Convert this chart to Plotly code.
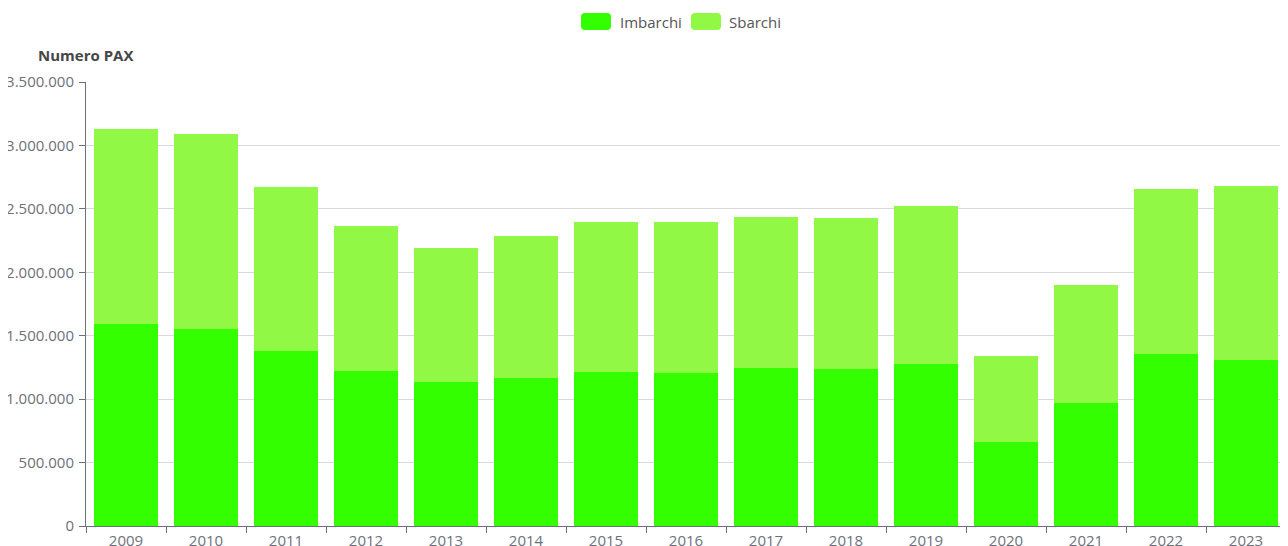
import plotly.graph_objects as go

years = ["2009", "2010", "2011", "2012", "2013", "2014", "2015", "2016",
         "2017", "2018", "2019", "2020", "2021", "2022", "2023"]
imbarchi = [1592000, 1553000, 1376000, 1222000, 1132000, 1164000, 1217000, 1206000,
            1243000, 1235000, 1274000, 663000, 967000, 1356000, 1306000]
sbarchi = [1538000, 1536000, 1295000, 1144000, 1063000, 1126000, 1183000, 1194000,
           1196000, 1194000, 1250000, 674000, 932000, 1301000, 1373000]
series_names = ["Imbarchi", "Sbarchi"]
series_colors = ["#33ff00", "#91f945"]

FONT = "Open Sans, Segoe UI, sans-serif"
TICK_COLOR = "#6e7079"

# figure geometry (page is offset by 8px body margin)
W, H = 1280, 538
ML, MR, MT, MB = 78, 2, 74, 20
PW, PH = W - ML - MR, H - MT - MB


def px(xpage):
    return (xpage - 8 - ML) / PW


def py(ypage):
    return (H - MB - (ypage - 8)) / PH


fig = go.Figure()
for name, vals, col in zip(series_names, [imbarchi, sbarchi], series_colors):
    fig.add_trace(go.Bar(name=name, x=years, y=vals, marker_color=col,
                         marker_line_width=0, showlegend=False))

fig.update_layout(
    barmode="stack",
    bargap=0.2,
    width=W, height=H,
    margin=dict(l=ML, r=MR, t=MT, b=MB, autoexpand=False),
    plot_bgcolor="white", paper_bgcolor="white",
    separators=",.",
    font=dict(family=FONT, size=15, color=TICK_COLOR),
    showlegend=False,
)
fig.update_xaxes(
    type="category", showline=True, linecolor=TICK_COLOR, linewidth=1,
    ticks="outside", tickson="boundaries", ticklen=6, tickcolor=TICK_COLOR,
    showgrid=False, tickfont=dict(size=15, color=TICK_COLOR),
    ticklabelstandoff=1, automargin=False,
)
fig.update_yaxes(
    range=[0, 3500000], dtick=500000, tickformat=",d",
    showline=True, linecolor=TICK_COLOR, linewidth=1,
    ticks="outside", ticklen=6, tickcolor=TICK_COLOR,
    showgrid=True, gridcolor="#dadada", gridwidth=1, zeroline=False,
    tickfont=dict(size=15, color=TICK_COLOR),
    ticklabelstandoff=2, automargin=False,
)

# Y-axis title
fig.add_annotation(text="<b>Numero PAX</b>", xref="paper", yref="paper",
                   x=px(85), y=py(55), xanchor="center", yanchor="middle",
                   showarrow=False, font=dict(family=FONT, size=15, color="#464646"))

# legend (rounded swatches + labels) drawn at top centre
legend_items = [(581, 618), (691, 727)]
y0p, y1p = 13, 30
r = 4
for (sx, tx), name, col in zip(legend_items, series_names, series_colors):
    x0, x1 = sx, sx + 30
    pts = [
        (x0 + r, y0p), (x1 - r, y0p), (x1, y0p), (x1, y0p + r), (x1, y1p - r),
        (x1, y1p), (x1 - r, y1p), (x0 + r, y1p), (x0, y1p), (x0, y1p - r),
        (x0, y0p + r), (x0, y0p), (x0 + r, y0p),
    ]
    P = [(px(a), py(b)) for a, b in pts]
    path = (f"M {P[0][0]} {P[0][1]} L {P[1][0]} {P[1][1]} "
            f"Q {P[2][0]} {P[2][1]} {P[3][0]} {P[3][1]} L {P[4][0]} {P[4][1]} "
            f"Q {P[5][0]} {P[5][1]} {P[6][0]} {P[6][1]} L {P[7][0]} {P[7][1]} "
            f"Q {P[8][0]} {P[8][1]} {P[9][0]} {P[9][1]} L {P[10][0]} {P[10][1]} "
            f"Q {P[11][0]} {P[11][1]} {P[12][0]} {P[12][1]} Z")
    fig.add_shape(type="path", path=path, xref="paper", yref="paper",
                  fillcolor=col, line_width=0)
    fig.add_annotation(text=name, xref="paper", yref="paper",
                       x=px(tx), y=py((y0p + y1p) / 2), xanchor="left", yanchor="middle",
                       showarrow=False, font=dict(family=FONT, size=15, color="#555"))

fig.write_html("out.html")
